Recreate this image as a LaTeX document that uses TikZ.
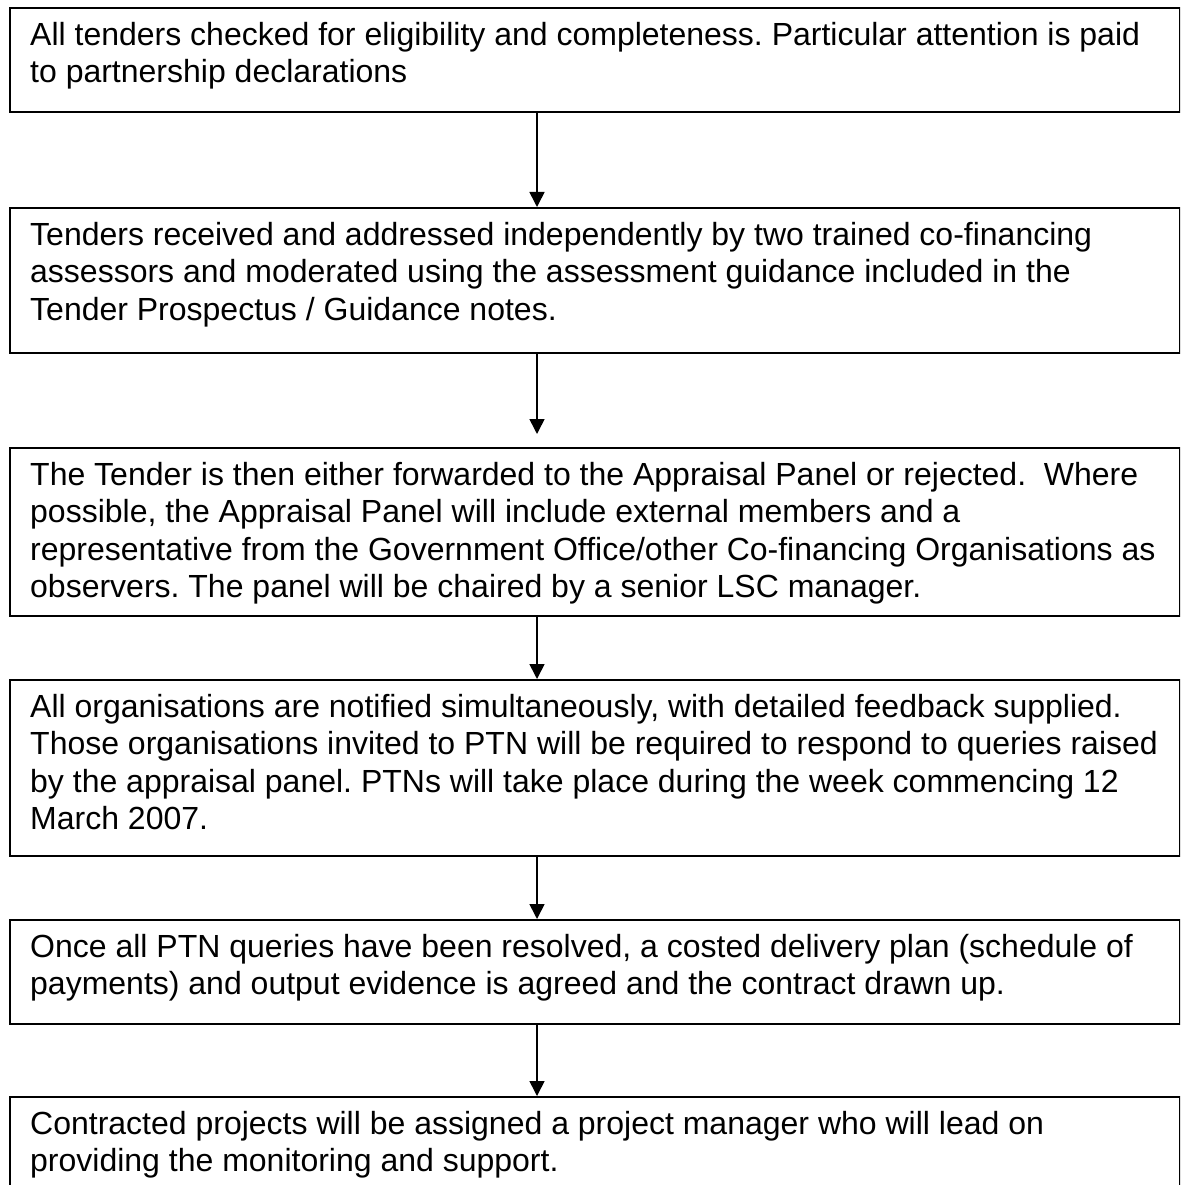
\documentclass[tikz,border=0pt]{standalone}
\usepackage{fontspec}
\setmainfont{Liberation Sans}
\usetikzlibrary{arrows.meta}
\frenchspacing
\begin{document}
\begin{tikzpicture}[x=1pt,y=-1pt,
  stagebox/.style={draw=black, line width=1.6pt, rectangle, anchor=north west,
    inner sep=0pt, minimum width=1170pt},
  stagetext/.style={anchor=north west, inner sep=0pt, align=left,
    font=\fontsize{32}{37.5}\selectfont},
  flow/.style={line width=1.6pt, -{Triangle[length=15pt,width=15pt]}}]
\clip (0,0) rectangle (1180,1185);
\fill[white] (0,0) rectangle (1180,1185);

% stage boxes
\node[stagebox, minimum height=104pt] (b1) at (9,7) {};
\node[stagebox, minimum height=145pt] (b2) at (9,207) {};
\node[stagebox, minimum height=168pt] (b3) at (9,447) {};
\node[stagebox, minimum height=176pt] (b4) at (9,679) {};
\node[stagebox, minimum height=104pt] (b5) at (9,919) {};
\node[stagebox, minimum height=140pt] (b6) at (9,1096) {};

% stage texts
\node[stagetext] (t1) at (30,18.75) {\strut All tenders checked for eligibility and completeness. Particular attention is paid\\
to partnership declarations};
\node[stagetext] (t2) at (30,218.75) {\strut Tenders received and addressed independently by two trained co-financing\\
assessors and moderated using the assessment guidance included in the\\
Tender Prospectus / Guidance notes.};
\node[stagetext] (t3) at (30,458.75) {\strut The Tender is then either forwarded to the Appraisal Panel or rejected.\ \ Where\\
possible, the Appraisal Panel will include external members and a\\
representative from the Government Office/other Co-financing Organisations as\\
observers. The panel will be chaired by a senior LSC manager.};
\node[stagetext] (t4) at (30,690.75) {\strut All organisations are notified simultaneously, with detailed feedback supplied.\\
Those organisations invited to PTN will be required to respond to queries raised\\
by the appraisal panel. PTNs will take place during the week commencing 12\\
March 2007.};
\node[stagetext] (t5) at (30,930.75) {\strut Once all PTN queries have been resolved, a costed delivery plan (schedule of\\
payments) and output evidence is agreed and the contract drawn up.};
\node[stagetext] (t6) at (30,1107.75) {\strut Contracted projects will be assigned a project manager who will lead on\\
providing the monitoring and support.};

% connectors
\draw[flow] ([xshift=528pt]b1.south west) -- ([xshift=528pt]b2.north west);
\draw[flow] ([xshift=528pt]b2.south west) -- ([xshift=528pt,yshift=13pt]b3.north west);
\draw[flow] ([xshift=528pt]b3.south west) -- ([xshift=528pt]b4.north west);
\draw[flow] ([xshift=528pt]b4.south west) -- ([xshift=528pt]b5.north west);
\draw[flow] ([xshift=528pt]b5.south west) -- ([xshift=528pt]b6.north west);
\end{tikzpicture}
\end{document}
